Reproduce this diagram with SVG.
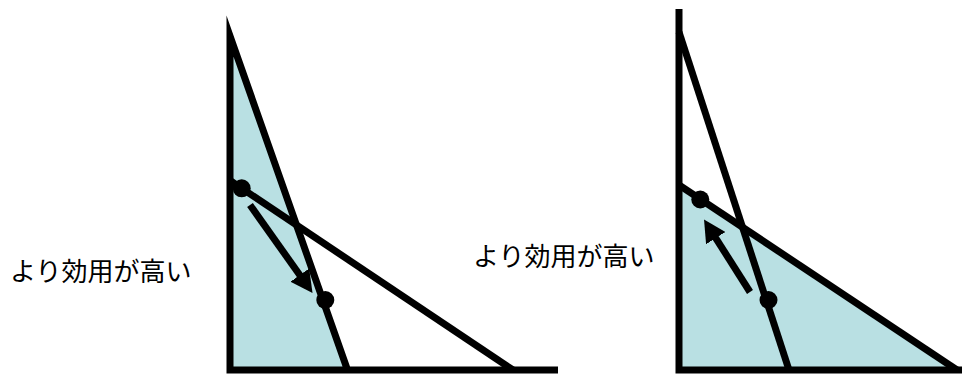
<svg xmlns="http://www.w3.org/2000/svg" width="962" height="374" viewBox="0 0 962 374">
<style>
.fill{fill:#B9E0E3;stroke:none}
.ln{fill:none;stroke:#000;stroke-width:7;stroke-linejoin:miter;stroke-miterlimit:10;stroke-linecap:butt}
.dot{fill:#000}
.arr{fill:none;stroke:#000;stroke-width:7;marker-end:url(#ah)}
.lbl{font-family:"Noto Sans CJK JP","Noto Sans",sans-serif;font-size:26px;fill:#000}
</style>
<defs>
<marker id="ah" markerUnits="userSpaceOnUse" viewBox="0 0 22 23" markerWidth="22" markerHeight="23" refX="14" refY="11.5" orient="auto">
<path d="M0,0 L22,11.5 L0,23 z" fill="#000"/>
</marker>
</defs>
<g id="left-panel">
<polygon class="fill" points="230,36 230,370 347.5,370"/>
<path class="ln" d="M558,370 L230,370 L230,36 L347.5,370"/>
<line class="ln" x1="230" y1="180.5" x2="513" y2="370"/>
</g>
<g id="left-dot-1"><circle class="dot" cx="241.7" cy="188.3" r="9"/></g>
<g id="left-dot-2"><circle class="dot" cx="325.3" cy="300" r="9"/></g>
<g id="right-panel">
<polygon class="fill" points="679,185 679,370 957,370"/>
<path class="ln" d="M679,9 L679,370 L962,370"/>
<line class="ln" x1="679" y1="185" x2="957" y2="370"/>
<line class="ln" x1="679" y1="32" x2="789" y2="370"/>
</g>
<g id="right-dot-1"><circle class="dot" cx="700.3" cy="199.5" r="9"/></g>
<g id="right-dot-2"><circle class="dot" cx="768.5" cy="300" r="9"/></g>
<g id="label-left"><text class="lbl" x="10" y="281">より効用が高い</text></g>
<g id="label-right"><text class="lbl" x="473" y="266">より効用が高い</text></g>
<g id="connectors">
<line class="arr" x1="250" y1="205" x2="307.9" y2="286.5"/>
<line class="arr" x1="750" y1="292" x2="708.3" y2="226.3"/>
</g>
</svg>
